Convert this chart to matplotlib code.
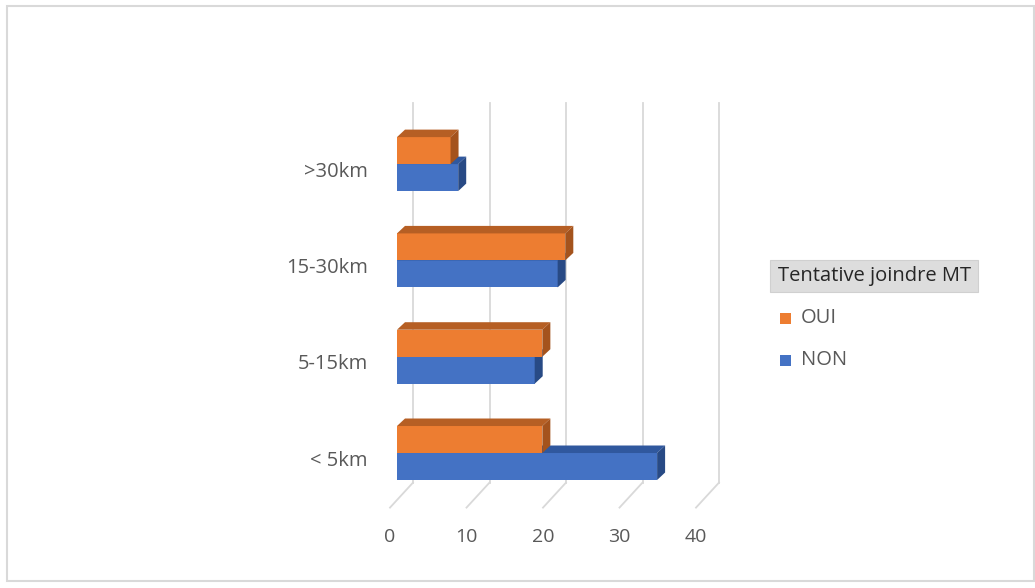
import matplotlib
matplotlib.use("Agg")
import matplotlib.pyplot as plt
from matplotlib.patches import Polygon, Rectangle

categories = ["< 5km", "5-15km", "15-30km", ">30km"]
oui = [19, 19, 22, 7]
non = [34, 18, 21, 8]
x_ticks = [0, 10, 20, 30, 40]
series_names = ["OUI", "NON"]
legend_title = "Tentative joindre MT"

W, H = 1035, 588
plt.rcParams['font.family'] = ['Open Sans', 'DejaVu Sans']

fig = plt.figure(figsize=(W / 100, H / 100), dpi=100)

# axes = plane of the bars' front faces (pseudo 3D like Excel)
y_lo, y_hi = -0.488, 3.458
ax = fig.add_axes([397 / W, 1 - 500 / H, 306 / W, 380 / H])
ax.set_xlim(0, 40)
ax.set_ylim(y_lo, y_hi)
ax.axis('off')

ux = 306 / 40
uy = 380 / (y_hi - y_lo)


def px(dx, dy):
    return dx / ux, dy / uy


back_x, back_y = px(16, 17.4)
front_x, front_y = px(-7, -7.6)
depth_x, depth_y = px(8, 7.5)
bar_h = 27 / uy

grid_col = '#D9D9D9'
for t in x_ticks:
    ax.plot([t + back_x, t + back_x], [y_lo + back_y, y_hi + back_y],
            color=grid_col, lw=1.3, zorder=1, clip_on=False)
    ax.plot([t + front_x, t + back_x], [y_lo + front_y, y_lo + back_y],
            color=grid_col, lw=1.3, zorder=1, clip_on=False)
    ax.text(t + front_x, (453 - 537) / uy, str(t), ha='center', va='center',
            fontsize=14, color='#595959')

colors = {
    'OUI': ('#ED7D31', '#B65F24', '#A4531D'),
    'NON': ('#4472C4', '#30589E', '#284A85'),
}
pos = list(range(len(categories)))


def draw_series(name, values, offset, z):
    front, top, side = colors[name]
    bottoms = [p + offset - bar_h / 2 for p in pos]
    ax.barh([b + bar_h / 2 for b in bottoms], values, height=bar_h,
            color=front, zorder=z, clip_on=False)
    for b, v in zip(bottoms, values):
        yt = b + bar_h
        ax.add_patch(Polygon([(0, yt), (v, yt), (v + depth_x, yt + depth_y),
                              (depth_x, yt + depth_y)],
                             closed=True, facecolor=top, edgecolor='none',
                             zorder=z + 0.1, clip_on=False))
        ax.add_patch(Polygon([(v, b), (v, yt), (v + depth_x, yt + depth_y),
                              (v + depth_x, b + depth_y)],
                             closed=True, facecolor=side, edgecolor='none',
                             zorder=z + 0.2, clip_on=False))


draw_series('NON', non, -bar_h / 2, 2)
draw_series('OUI', oui, bar_h / 2, 3)

for p, c in zip(pos, categories):
    ax.text(front_x - 22 / ux, p + front_y, c, ha='right', va='center',
            fontsize=14.5, color='#595959')

# legend
fig.patches.append(Rectangle((770 / W, 1 - 292 / H), 208 / W, 32 / H,
                             transform=fig.transFigure, facecolor='#DDDDDD',
                             edgecolor='#D0D0D0', lw=0.8))
fig.text(875 / W, 1 - 276 / H, legend_title, ha='center', va='center',
         fontsize=14.5, color='#262626')
for name, yc in zip(series_names, [318, 360]):
    fig.patches.append(Rectangle((780 / W, 1 - (yc + 6) / H), 11 / W, 11 / H,
                                 transform=fig.transFigure,
                                 facecolor=colors[name][0], edgecolor='none'))
    fig.text(801 / W, 1 - yc / H, name, ha='left', va='center',
             fontsize=14.5, color='#595959')

# chart border
fig.patches.append(Rectangle((7 / W, 1 - 581 / H), 1027 / W, 575 / H,
                             transform=fig.transFigure, facecolor='none',
                             edgecolor='#D9D9D9', lw=1.5))

fig.savefig('out.png', dpi=100)
